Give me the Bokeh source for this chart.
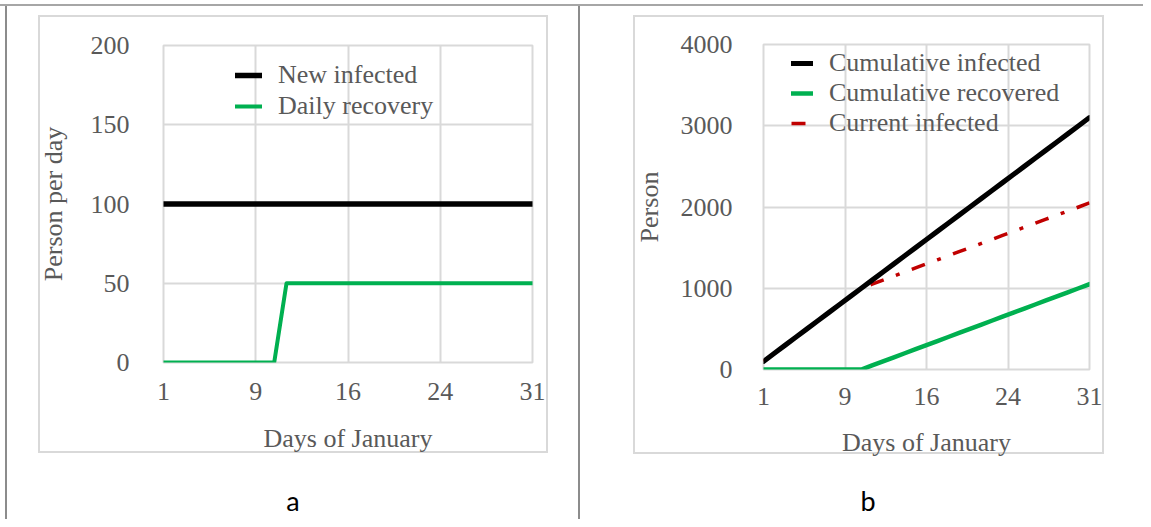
from bokeh.plotting import figure
from bokeh.layouts import row, column
from bokeh.models import (Range1d, FixedTicker, NumeralTickFormatter, Legend,
                          LegendItem, Div)
from bokeh.embed import file_html
from bokeh.resources import INLINE

# ---------------- data ----------------
days = [1, 2, 3, 4, 5, 6, 7, 8, 9, 10, 11, 12, 13, 14, 15, 16,
        17, 18, 19, 20, 21, 22, 23, 24, 25, 26, 27, 28, 29, 30, 31]
new_infected = [100, 100, 100, 100, 100, 100, 100, 100, 100, 100, 100,
                100, 100, 100, 100, 100, 100, 100, 100, 100, 100, 100,
                100, 100, 100, 100, 100, 100, 100, 100, 100]
daily_recovery = [0, 0, 0, 0, 0, 0, 0, 0, 0, 0, 50,
                  50, 50, 50, 50, 50, 50, 50, 50, 50, 50, 50,
                  50, 50, 50, 50, 50, 50, 50, 50, 50]
cum_infected = [100, 200, 300, 400, 500, 600, 700, 800, 900, 1000,
                1100, 1200, 1300, 1400, 1500, 1600, 1700, 1800, 1900, 2000,
                2100, 2200, 2300, 2400, 2500, 2600, 2700, 2800, 2900, 3000, 3100]
cum_recovered = [0, 0, 0, 0, 0, 0, 0, 0, 0, 0,
                 50, 100, 150, 200, 250, 300, 350, 400, 450, 500,
                 550, 600, 650, 700, 750, 800, 850, 900, 950, 1000, 1050]
current_infected = [100, 200, 300, 400, 500, 600, 700, 800, 900, 1000,
                    1050, 1100, 1150, 1200, 1250, 1300, 1350, 1400, 1450, 1500,
                    1550, 1600, 1650, 1700, 1750, 1800, 1850, 1900, 1950, 2000, 2050]
x_ticks = [1, 8.5, 16, 23.5, 31]
y_ticks_a = [0, 50, 100, 150, 200]
y_ticks_b = [0, 1000, 2000, 3000, 4000]
x_title = "Days of January"
y_title_a = "Person per day"
y_title_b = "Person"
legend_a = ["New infected", "Daily recovery"]
legend_b = ["Cumulative infected", "Cumulative recovered", "Current infected"]
captions = ["a", "b"]

# ---------------- style ----------------
FONT = "Liberation Serif"
FS = "26px"
TXT = "#595959"
GRID = "#d9d9d9"
FIG_H = 470
CAP_H = 49
WA, WB = 579, 564


def base_fig(w, left, right, top, bottom, ymax, yticks):
    p = figure(width=w, height=FIG_H, output_backend="svg", toolbar_location=None,
               x_range=Range1d(1, 31), y_range=Range1d(0, ymax),
               min_border_left=left, min_border_right=right,
               min_border_top=top, min_border_bottom=bottom, margin=0)
    p.outline_line_color = GRID
    p.outline_line_width = 2
    p.background_fill_color = "white"
    p.border_fill_alpha = 0
    p.xaxis.ticker = FixedTicker(ticks=x_ticks)
    p.yaxis.ticker = FixedTicker(ticks=yticks)
    p.xaxis.formatter = NumeralTickFormatter(format="0")
    p.yaxis.formatter = NumeralTickFormatter(format="0")
    for ax in (p.xaxis, p.yaxis):
        ax.axis_line_color = None
        ax.major_tick_line_color = None
        ax.minor_tick_line_color = None
        ax.major_tick_out = 0
        ax.major_tick_in = 0
        ax.major_label_text_font = FONT
        ax.major_label_text_font_size = FS
        ax.major_label_text_color = TXT
        ax.axis_label_text_font = FONT
        ax.axis_label_text_font_size = FS
        ax.axis_label_text_color = TXT
        ax.axis_label_text_font_style = "normal"
    p.xgrid.ticker = FixedTicker(ticks=x_ticks)
    p.ygrid.ticker = FixedTicker(ticks=yticks)
    for g in (p.xgrid, p.ygrid):
        g.grid_line_color = GRID
        g.grid_line_width = 2
    return p


def caption_div(text, w, pad):
    html = ('<div style="box-sizing:border-box; width:%dpx; text-align:center; '
            'padding-left:%dpx; padding-top:17px; font-family:Lato, sans-serif; '
            'font-size:27px; line-height:27px; color:black;">%s</div>' % (w, pad, text))
    return Div(text=html, width=w, height=CAP_H, margin=0)


# ---------------- chart a ----------------
pa = base_fig(WA, 163, 47, 45, 108, 200, y_ticks_a)
pa.xaxis.axis_label = x_title
pa.yaxis.axis_label = y_title_a
pa.yaxis.major_label_standoff = 34
pa.yaxis.axis_label_standoff = 20
pa.xaxis.major_label_standoff = 20
pa.xaxis.axis_label_standoff = 21

ra1 = pa.line(days, new_infected, line_color="black", line_width=5.5,
              line_cap="round", line_join="round")
ra2 = pa.line(days, daily_recovery, line_color="#00b050", line_width=4,
              line_cap="round", line_join="round")
leg_a = Legend(items=[LegendItem(label=legend_a[0], renderers=[ra1]),
                      LegendItem(label=legend_a[1], renderers=[ra2])],
               location=(72, 241), border_line_color=None,
               background_fill_alpha=0, padding=0, margin=0, spacing=1,
               glyph_width=27, glyph_height=20, label_standoff=16,
               label_height=20, label_text_font=FONT,
               label_text_font_size=FS, label_text_color=TXT)
pa.add_layout(leg_a)

# ---------------- chart b ----------------
pb = base_fig(WB, 184, 54, 44, 101, 4000, y_ticks_b)
pb.xaxis.axis_label = x_title
pb.yaxis.axis_label = y_title_b
pb.yaxis.major_label_standoff = 31
pb.yaxis.axis_label_standoff = 14
pb.xaxis.major_label_standoff = 18
pb.xaxis.axis_label_standoff = 20

rb3 = pb.line(days, current_infected, line_color="#c00000", line_width=3.5,
              line_dash="14 13 4 13")
rb1 = pb.line(days, cum_infected, line_color="black", line_width=5,
              line_cap="round", line_join="round")
rb2 = pb.line(days, cum_recovered, line_color="#00b050", line_width=4.5,
              line_cap="round", line_join="round")
leg_b = Legend(items=[LegendItem(label=legend_b[0], renderers=[rb1]),
                      LegendItem(label=legend_b[1], renderers=[rb2]),
                      LegendItem(label=legend_b[2], renderers=[rb3])],
               location=(28, 231), border_line_color=None,
               background_fill_alpha=0, padding=0, margin=0, spacing=-1,
               glyph_width=22, glyph_height=20, label_standoff=16,
               label_height=20, label_text_font=FONT,
               label_text_font_size=FS, label_text_color=TXT)
pb.add_layout(leg_b)

# ---------------- page frame (table lines and chart-area borders) ----------------
rules = [
    ("#a6a6a6", 0, 4, WA + WB, 2),      # table top line
    ("#8c8c8c", 5, 4, 2, 520),          # table left line
    ("#8c8c8c", 578, 4, 2, 520),        # table middle line
    (GRID, 38, 15, 510, 2), (GRID, 38, 451, 510, 2),
    (GRID, 38, 15, 2, 438), (GRID, 546, 15, 2, 438),
    (GRID, 633, 15, 471, 2), (GRID, 633, 452, 471, 2),
    (GRID, 633, 15, 2, 439), (GRID, 1102, 15, 2, 439),
]
bg_styles = {
    "background-color": "white",
    "background-image": ", ".join("linear-gradient(%s, %s)" % (c, c) for c, *_ in rules),
    "background-size": ", ".join("%dpx %dpx" % (w, h) for _, _, _, w, h in rules),
    "background-position": ", ".join("%dpx %dpx" % (x, y) for _, x, y, _, _ in rules),
    "background-repeat": "no-repeat",
}

layout = row(column(pa, caption_div(captions[0], WA, 7), margin=0, spacing=0),
             column(pb, caption_div(captions[1], WB, 14), margin=0, spacing=0),
             styles=bg_styles, margin=0, spacing=0)
open("out.html", "w").write(file_html(layout, INLINE))
